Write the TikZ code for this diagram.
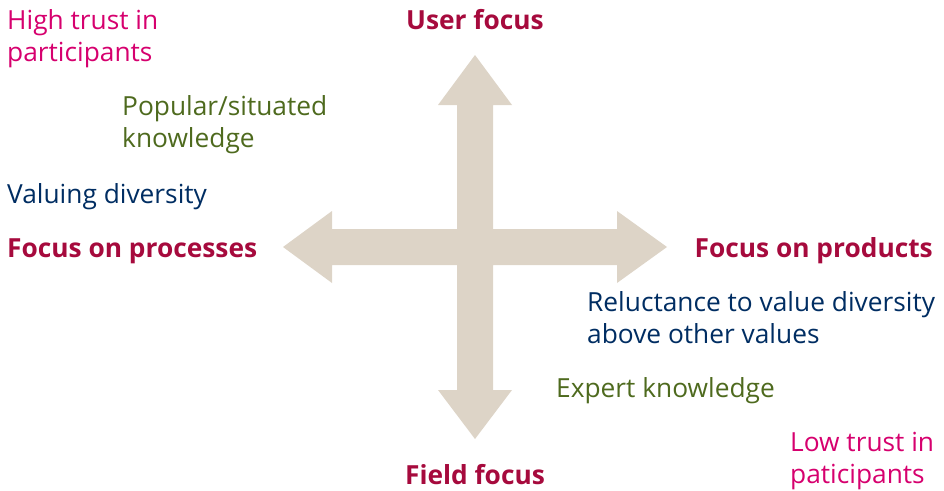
\documentclass[tikz,border=0pt]{standalone}
\usepackage{fontspec}
\setmainfont{Open Sans}
\usepackage{xcolor}
\usepackage{tikz}
\usetikzlibrary{positioning}
\definecolor{axisbeige}{RGB}{221, 212, 199}
\definecolor{polered}{RGB}{166, 10, 61}
\definecolor{trustpink}{RGB}{214, 0, 110}
\definecolor{knowgreen}{RGB}{78, 106, 30}
\definecolor{valuenavy}{RGB}{0, 45, 98}
\tikzset{
  lbl/.style={inner sep=0pt, align=left, font=\fontsize{26.3}{32}\selectfont},
  pole/.style={lbl, polered, font=\fontsize{26.3}{32}\selectfont\bfseries},
}

\begin{document}
\begin{tikzpicture}[x=1pt, y=-1pt]
  \useasboundingbox (0,0) rectangle (944,490);
  % cross of arrows, centre at (475,247)
  \fill[axisbeige] (475,55) -- (512,105) -- (493,105) -- (493,229) -- (617,229) -- (617,211)
    -- (667,247) -- (617,283) -- (617,265) -- (493,265) -- (493,390) -- (512,390)
    -- (475,439) -- (438,390) -- (457,390) -- (457,265) -- (332,265) -- (332,283)
    -- (283,247) -- (332,211) -- (332,229) -- (457,229) -- (457,105) -- (438,105) -- cycle;

  % poles
  \node[pole, anchor=base] (user) at (475,29) {User focus};
  \node[pole, anchor=base] (field) at (475,484) {Field focus};
  \node[pole, anchor=base west] (processes) at (7,257) {Focus on processes};
  \node[pole, anchor=base east] (products) at (933,257) {Focus on products};

  % left side (base = last line)
  \node[lbl, trustpink, anchor=base west] (hightrust) at (7,61) {High trust in\\participants};
  \node[lbl, knowgreen, anchor=base west] (popular) at (122,147) {Popular/situated\\knowledge};
  \node[lbl, valuenavy, anchor=base west] (diversity) at (7,203) {Valuing diversity};

  % right side
  \node[lbl, valuenavy, anchor=base west] (reluctance) at (587,343) {Reluctance to value diversity\\above other values};
  \node[lbl, knowgreen, anchor=base west] (expert) at (556,397) {Expert knowledge};
  \node[lbl, trustpink, anchor=base west] (lowtrust) at (790,483) {Low trust in\\paticipants};
\end{tikzpicture}
\end{document}
